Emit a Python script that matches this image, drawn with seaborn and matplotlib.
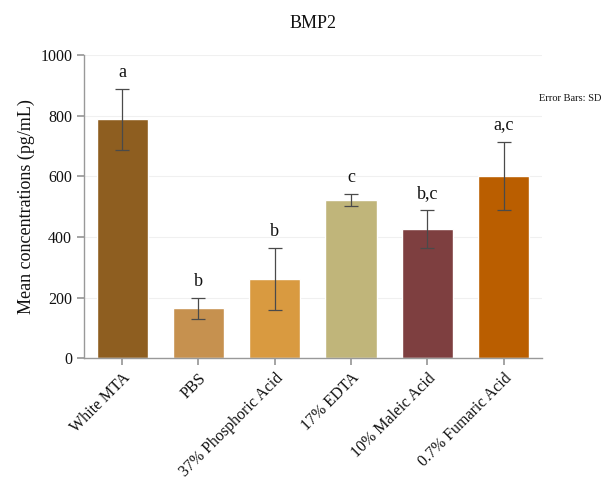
import matplotlib
matplotlib.use("Agg")
import matplotlib.pyplot as plt
import seaborn as sns
import pandas as pd
import numpy as np

groups = ["White MTA", "PBS", "37% Phosphoric Acid", "17% EDTA", "10% Maleic Acid", "0.7% Fumaric Acid"]
means = [788, 164, 260, 521, 425, 601]
sds = [100, 34, 102, 20, 63, 113]
letters = ["a", "b", "b", "c", "b,c", "a,c"]
colors = ["#8E5E20", "#C6914F", "#D99A40", "#C0B57A", "#7E3F40", "#BA5E00"]

sns.set_theme(style="white")
plt.rcParams['font.family'] = ['Liberation Serif', 'DejaVu Serif']

df = pd.DataFrame({"group": groups, "mean": means})

fig = plt.figure(figsize=(6.04, 4.84), dpi=100)
ax = fig.add_axes([0.139, 0.260, 0.758, 0.626])

sns.barplot(data=df, x="group", y="mean", hue="group", palette=colors,
            width=0.67, ax=ax, legend=False, errorbar=None, saturation=1)

x = np.arange(len(groups))
ax.errorbar(x, means, yerr=sds, fmt="none", ecolor="#4a4a4a", elinewidth=0.9,
            capsize=5, capthick=0.9)

for xi, m, s, l in zip(x, means, sds, letters):
    ax.annotate(l, (xi, m + s), xytext=(0, 6), textcoords="offset points",
                ha="center", va="bottom", fontsize=13, color="#111111")

ax.set_ylim(0, 1000)
ax.set_xlim(-0.5, 5.5)
ax.set_yticks([0, 200, 400, 600, 800, 1000])
ax.yaxis.grid(True, color="#f0f0f0", linewidth=0.8)
ax.set_axisbelow(True)
for sp in ["top", "right"]:
    ax.spines[sp].set_visible(False)
for sp in ["left", "bottom"]:
    ax.spines[sp].set_color("#999999")
    ax.spines[sp].set_linewidth(1.0)
ax.tick_params(axis="both", which="both", length=5, color="#999999", labelsize=11.5,
               labelcolor="#111111", direction="out", left=True, bottom=True)
ax.set_xticks(x)
ax.set_xticklabels(groups, rotation=45, ha="right", rotation_mode="anchor")
ax.set_xlabel("")
ax.set_ylabel("Mean concentrations (pg/mL)", fontsize=13, color="#111111")
fig.text(0.518, 0.952, "BMP2", ha="center", va="center", fontsize=13, color="#111111")
fig.text(0.996, 0.797, "Error Bars: SD", ha="right", va="center", fontsize=7.5, color="#111111")

fig.savefig("out.png", dpi=100)
